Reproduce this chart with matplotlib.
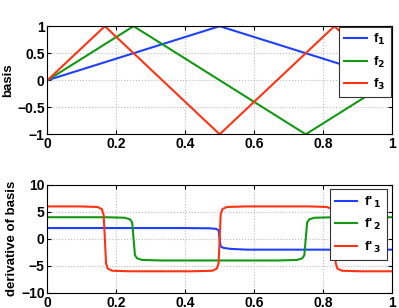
import matplotlib
matplotlib.use("Agg")
import matplotlib.pyplot as plt

plt.rcParams["font.family"] = ["Liberation Sans", "DejaVu Sans"]
plt.rcParams["font.weight"] = "bold"
plt.rcParams["mathtext.default"] = "bf"

# basis functions (vertices of the piecewise-linear curves)
f1_x = [0, 0.5, 1]
f1_y = [0, 1, 0]
f2_x = [0, 0.25, 0.75, 1]
f2_y = [0, 1, -1, 0]
f3_x = [0, 1 / 6, 0.5, 5 / 6, 1]
f3_y = [0, 1, -1, 1, 0]

# derivatives (smoothed steps)
d1_x = [0, 0.40, 0.47, 0.49, 0.497, 0.5, 0.503, 0.51, 0.53, 0.58, 1.0]
d1_y = [2, 2, 1.95, 1.85, 1.6, 0, -1.4, -1.65, -1.85, -2, -2]
d2_x = [0, 0.17, 0.225, 0.240, 0.246, 0.25, 0.254, 0.26, 0.275, 0.33,
        0.67, 0.725, 0.740, 0.746, 0.75, 0.754, 0.76, 0.775, 0.83, 1.0]
d2_y = [4, 4, 3.9, 3.6, 3.0, 0, -3.0, -3.6, -3.9, -4,
        -4, -3.9, -3.6, -3.0, 0, 3.0, 3.6, 3.9, 4, 4]
d3_x = [0, 0.09, 0.145, 0.158, 0.163, 0.1667, 0.170, 0.175, 0.188, 0.24,
        0.42, 0.479, 0.492, 0.497, 0.5, 0.503, 0.508, 0.521, 0.58,
        0.76, 0.812, 0.825, 0.830, 0.8333, 0.837, 0.842, 0.855, 0.91, 1.0]
d3_y = [6, 6, 5.9, 5.5, 4.5, 0, -4.5, -5.5, -5.9, -6,
        -6, -5.9, -5.5, -4.5, 0, 4.5, 5.5, 5.9, 6,
        6, 5.9, 5.5, 4.5, 0, -4.5, -5.5, -5.9, -6, -6]

blue = "#1f3fff"
green = "#119911"
red = "#ff3311"

fig = plt.figure(figsize=(3.99, 3.08), dpi=100)
ax1 = fig.add_axes([0.119, 0.564, 0.863, 0.351])
ax2 = fig.add_axes([0.119, 0.049, 0.863, 0.351])

ax1.plot(f1_x, f1_y, color=blue, lw=1.5, label="f$_1$")
ax1.plot(f2_x, f2_y, color=green, lw=1.5, label="f$_2$")
ax1.plot(f3_x, f3_y, color=red, lw=1.5, label="f$_3$")
ax1.set_ylim(-1, 1)
ax1.set_yticks([-1, -0.5, 0, 0.5, 1])
ax1.set_yticklabels(["\u22121", "\u22120.5", "0", "0.5", "1"])
ax1.set_ylabel("basis", fontsize=9.5, fontweight="bold", labelpad=2)

ax2.plot(d1_x, d1_y, color=blue, lw=1.5, label="f'$\\,_1$")
ax2.plot(d2_x, d2_y, color=green, lw=1.5, label="f'$\\,_2$")
ax2.plot(d3_x, d3_y, color=red, lw=1.5, label="f'$\\,_3$")
ax2.set_ylim(-10, 10)
ax2.set_yticks([-10, -5, 0, 5, 10])
ax2.set_yticklabels(["\u221210", "\u22125", "0", "5", "10"])
ax2.set_ylabel("derivative of basis", fontsize=9.5, fontweight="bold", labelpad=2)

for ax, pad in ((ax1, 0.05), (ax2, 0.35)):
    ax.set_xlim(0, 1)
    ax.set_xticks([0, 0.2, 0.4, 0.6, 0.8, 1])
    ax.set_xticklabels(["0", "0.2", "0.4", "0.6", "0.8", "1"])
    ax.grid(True, linestyle=":", color="#bbbbbb", linewidth=0.8)
    ax.tick_params(direction="in", top=True, right=True, labelsize=10,
                   length=3, pad=2)
    for lab in ax.get_xticklabels() + ax.get_yticklabels():
        lab.set_fontweight("bold")
    for s in ax.spines.values():
        s.set_linewidth(0.8)
    leg = ax.legend(loc="upper right", fontsize=9.5, handlelength=1.7,
                    fancybox=False, framealpha=1, edgecolor="#333333",
                    borderaxespad=pad, labelspacing=0.55, handletextpad=0.5,
                    borderpad=0.4)
    leg.get_frame().set_linewidth(0.8)

fig.savefig("out.png", dpi=100)
